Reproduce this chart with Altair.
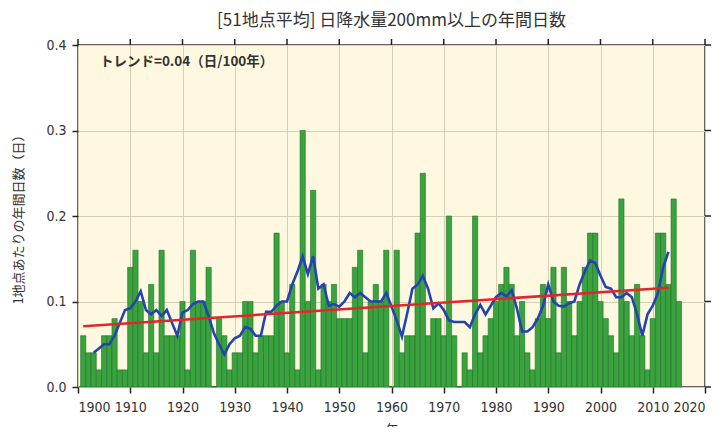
import altair as alt
import pandas as pd

# ---- data ----
years = list(range(1901, 2016))
days = [
    0.06, 0.04, 0.04, 0.02, 0.06, 0.06, 0.08, 0.02, 0.02, 0.14,   # 1901-1910
    0.16, 0.10, 0.04, 0.12, 0.04, 0.16, 0.06, 0.06, 0.06, 0.10,   # 1911-1920
    0.02, 0.16, 0.10, 0.10, 0.14, 0.00, 0.08, 0.06, 0.02, 0.04,   # 1921-1930
    0.04, 0.10, 0.10, 0.04, 0.06, 0.06, 0.06, 0.18, 0.10, 0.04,   # 1931-1940
    0.12, 0.02, 0.30, 0.10, 0.23, 0.02, 0.12, 0.10, 0.12, 0.08,   # 1941-1950
    0.08, 0.08, 0.14, 0.16, 0.04, 0.10, 0.12, 0.10, 0.16, 0.00,   # 1951-1960
    0.16, 0.04, 0.06, 0.06, 0.18, 0.25, 0.06, 0.08, 0.08, 0.06,   # 1961-1970
    0.20, 0.06, 0.00, 0.04, 0.02, 0.20, 0.04, 0.06, 0.08, 0.10,   # 1971-1980
    0.12, 0.14, 0.12, 0.06, 0.10, 0.04, 0.02, 0.08, 0.12, 0.08,   # 1981-1990
    0.14, 0.04, 0.14, 0.10, 0.06, 0.10, 0.14, 0.18, 0.18, 0.10,   # 1991-2000
    0.08, 0.06, 0.04, 0.22, 0.10, 0.06, 0.12, 0.06, 0.02, 0.08,   # 2001-2010
    0.18, 0.18, 0.12, 0.22, 0.10,                                 # 2011-2015
]

ma_start = 1903
ma_values = [
    0.040, 0.045, 0.050, 0.050, 0.060, 0.075, 0.090, 0.092,       # 1903-1910
    0.100, 0.112, 0.090, 0.085, 0.090, 0.083, 0.090, 0.075, 0.060, 0.087,  # 1911-1920
    0.090, 0.097, 0.100, 0.100, 0.083, 0.063, 0.050, 0.038, 0.050, 0.057,  # 1921-1930
    0.060, 0.070, 0.068, 0.060, 0.060, 0.088, 0.088, 0.095, 0.100, 0.100,  # 1931-1940
    0.120, 0.135, 0.153, 0.132, 0.153, 0.115, 0.120, 0.095, 0.097, 0.094,  # 1941-1950
    0.100, 0.110, 0.105, 0.110, 0.105, 0.100, 0.100, 0.100, 0.110, 0.094,  # 1951-1960
    0.078, 0.059, 0.086, 0.115, 0.120, 0.130, 0.115, 0.092, 0.098, 0.090,  # 1961-1970
    0.078, 0.076, 0.076, 0.076, 0.070, 0.085, 0.096, 0.085, 0.095, 0.105,  # 1971-1980
    0.110, 0.106, 0.113, 0.092, 0.065, 0.065, 0.070, 0.080, 0.095, 0.120,  # 1981-1990
    0.100, 0.095, 0.094, 0.098, 0.100, 0.120, 0.135, 0.148, 0.145, 0.130,  # 1991-2000
    0.117, 0.115, 0.105, 0.105, 0.110, 0.105, 0.085, 0.060, 0.085, 0.095,  # 2001-2010
    0.110, 0.140, 0.158,                                                   # 2011-2013
]

trend_years = [1901, 2013]
trend_values = [0.071, 0.116]

x_ticks = list(range(1900, 2021, 10))
y_ticks = [0.0, 0.1, 0.2, 0.3, 0.4]

title_text = "[51地点平均] 日降水量200mm以上の年間日数"
y_title = "1地点あたりの年間日数（日）"
x_title = "年"
trend_label = "トレンド=0.04（日/100年）"

# ---- tables ----
bars_df = pd.DataFrame({"year": years, "days": days})
ma_df = pd.DataFrame({"year": list(range(ma_start, ma_start + len(ma_values))), "days": ma_values})
trend_df = pd.DataFrame({"year": trend_years, "days": trend_values})
xtick_df = pd.DataFrame({"year": x_ticks})
ytick_df = pd.DataFrame({"days": y_ticks})

NUM_FONT = "Liberation Sans Narrow, DejaVu Sans Condensed, Liberation Sans, sans-serif"
JP_FONT = "Noto Sans CJK JP"
INK = "#333333"
TICK = "#222222"
GRID = "#d6cfb4"

xscale = alt.Scale(domain=[x_ticks[0], x_ticks[-1]], nice=False, zero=False)
yscale = alt.Scale(domain=[y_ticks[0], y_ticks[-1]], nice=False, zero=True)

x_bottom = alt.Axis(orient="bottom", values=x_ticks, format="d", title=x_title, grid=True,
                    gridColor=GRID, gridWidth=1, domain=False, ticks=True, tickSize=6,
                    tickWidth=1.5, tickColor=TICK, tickOpacity=1,
                    labelFont=NUM_FONT, labelFontSize=14, labelColor=INK,
                    labelPadding=7, titleFont=JP_FONT, titleFontSize=13, titleColor=INK,
                    titleFontWeight="normal", titleY=42, titleBaseline="middle")
y_left = alt.Axis(orient="left", values=y_ticks, format=".1f", title=y_title, grid=True,
                  gridColor=GRID, gridWidth=1, domain=False, ticks=True, tickSize=6,
                  tickWidth=1.5, tickColor=TICK, tickOpacity=1,
                  labelFont=NUM_FONT, labelFontSize=14, labelColor=INK,
                  labelPadding=6, titleFont=JP_FONT, titleFontSize=13, titleColor=INK,
                  titleFontWeight="normal", titleX=-60, titleY=171, titleBaseline="middle",
                  titleAngle=270)

bars = alt.Chart(bars_df).transform_calculate(
    x0="datum.year - 0.5", x1="datum.year + 0.5"
).mark_bar(fill="#3aa23e", stroke="#1f7426", strokeWidth=0.6).encode(
    x=alt.X("x0:Q", scale=xscale, axis=x_bottom),
    x2="x1:Q",
    y=alt.Y("days:Q", scale=yscale, axis=y_left),
    y2=alt.datum(0),
)

ma_line = alt.Chart(ma_df).mark_line(color="#2442b0", strokeWidth=2.6).encode(
    x=alt.X("year:Q", scale=xscale),
    y=alt.Y("days:Q", scale=yscale),
)

trend_line = alt.Chart(trend_df).mark_line(color="#e3262b", strokeWidth=2.6).encode(
    x=alt.X("year:Q", scale=xscale),
    y=alt.Y("days:Q", scale=yscale),
)

label = alt.Chart(pd.DataFrame({"t": [trend_label]})).mark_text(
    align="left", baseline="middle", font=JP_FONT, fontSize=13.5, fontWeight="bold", color=INK
).encode(
    x=alt.datum(1904.2, scale=xscale),
    y=alt.datum(0.380, scale=yscale),
    text="t:N",
)

# short tick rules standing outward from the top and right edges of the frame
top_ticks = alt.Chart(xtick_df).mark_rule(
    color=TICK, strokeWidth=1.5, y2Offset=-6
).encode(
    x=alt.X("year:Q", scale=xscale),
    y=alt.datum(y_ticks[-1], scale=yscale),
    y2=alt.datum(y_ticks[-1]),
)
right_ticks = alt.Chart(ytick_df).mark_rule(
    color=TICK, strokeWidth=1.5, x2Offset=6
).encode(
    x=alt.datum(x_ticks[-1], scale=xscale),
    x2=alt.datum(x_ticks[-1]),
    y=alt.Y("days:Q", scale=yscale),
)

chart = alt.layer(bars, ma_line, trend_line, label, top_ticks, right_ticks).properties(
    width=627, height=342,
    title=alt.TitleParams(title_text, font=JP_FONT, fontSize=17, fontWeight="normal",
                          color=INK, anchor="middle", offset=8),
    autosize=alt.AutoSizeParams(type="none"),
    padding={"left": 70, "top": 37, "right": 11, "bottom": 40},
    background="white",
).configure_view(
    fill="#fdf8df", stroke=INK, strokeWidth=1.5
)

chart.save("out.html", embed_options={"renderer": "svg", "actions": False})
